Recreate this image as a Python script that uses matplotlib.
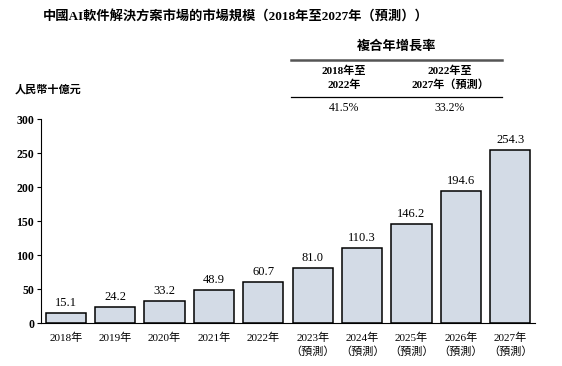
import matplotlib
matplotlib.use("Agg")
import matplotlib.pyplot as plt

plt.rcParams['font.family'] = ['Liberation Serif', 'Noto Sans CJK TC']

years = ['2018年', '2019年', '2020年', '2021年', '2022年',
         '2023年\n（預測）', '2024年\n（預測）', '2025年\n（預測）',
         '2026年\n（預測）', '2027年\n（預測）']
values = [15.1, 24.2, 33.2, 48.9, 60.7, 81.0, 110.3, 146.2, 194.6, 254.3]
cagr_periods = ['2018年至\n2022年', '2022年至\n2027年（預測）']
cagr_values = ['41.5%', '33.2%']

W, H = 562, 366
fig = plt.figure(figsize=(W/100, H/100), dpi=100)
ax = fig.add_axes([41/W, 1-323.3/H, 494/W, 204.3/H])

x = range(len(values))
ax.bar(x, values, width=0.81, color='#d3dbe6', edgecolor='black', lw=1.1)
for i, v in enumerate(values):
    ax.text(i, v + 6, '%.1f' % v, ha='center', va='bottom', fontsize=9)

ax.set_xlim(-0.5, 9.5)
ax.set_ylim(0, 300)
ax.set_yticks(range(0, 301, 50))
ax.set_xticks(list(x))
ax.set_xticklabels(years, fontsize=8, linespacing=1.35)
ax.tick_params(axis='x', length=0, pad=7)
ax.tick_params(axis='y', length=3, labelsize=8.5, pad=2)
for lbl in ax.get_yticklabels():
    lbl.set_fontweight('bold')
ax.spines['top'].set_visible(False)
ax.spines['right'].set_visible(False)
ax.spines['left'].set_linewidth(0.8)
ax.spines['bottom'].set_linewidth(0.8)

# title and unit
fig.text(43/W, 1-16/H, '中國AI軟件解決方案市場的市場規模（2018年至2027年（預測））',
         fontsize=9.5, fontweight='bold', va='center', ha='left')
fig.text(15/W, 1-89/H, '人民幣十億元', fontsize=8, fontweight='bold', va='center', ha='left')

# CAGR table
fig.text(397/W, 1-47/H, '複合年增長率', fontsize=9.5, fontweight='bold', va='center', ha='center')
fig.add_artist(plt.Line2D([291/W, 502/W], [1-60/H, 1-60/H], color='#555555', lw=1.8))
fig.add_artist(plt.Line2D([291/W, 502/W], [1-97/H, 1-97/H], color='black', lw=0.9))
cx = [344, 450]
for c, p, v in zip(cx, cagr_periods, cagr_values):
    fig.text(c/W, 1-78/H, p, fontsize=8, fontweight='bold', va='center', ha='center', linespacing=1.4)
    fig.text(c/W, 1-108/H, v, fontsize=8.5, va='center', ha='center')

fig.savefig('out.png', dpi=100)
